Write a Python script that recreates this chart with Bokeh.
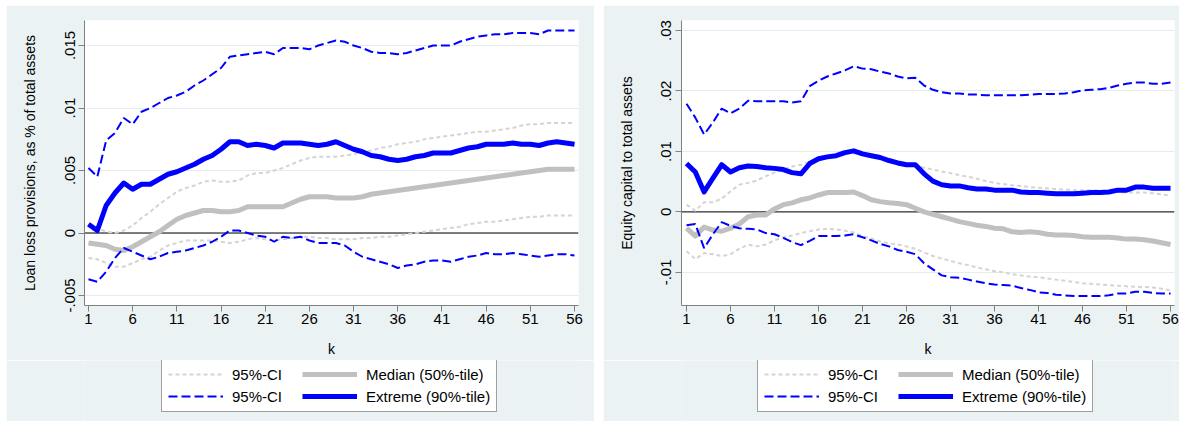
from bokeh.plotting import figure
from bokeh.models import Range1d, FixedTicker, Span, Legend, LegendItem
from bokeh.layouts import row, column
from bokeh.embed import file_html
from bokeh.resources import INLINE

# ---------------- data ----------------
k = list(range(1, 57))
x_ticks = [1, 6, 11, 16, 21, 26, 31, 36, 41, 46, 51, 56]
x_label = "k"

legend_labels = ["95%-CI", "Median (50%-tile)", "95%-CI", "Extreme (90%-tile)"]

# Left panel: loan loss provisions
left_ylabel = "Loan loss provisions, as % of total assets"
left_yticks = [-0.005, 0, 0.005, 0.01, 0.015]
left_yticklabels = ["-.005", "0", ".005", ".01", ".015"]

left_ci_gray_hi = [0.0007, 0.0004, 0.0001, 0.0000, 0.0002, 0.0006, 0.0012, 0.0017, 0.0023, 0.0028,
                   0.0033, 0.0036, 0.0038, 0.0041, 0.0042, 0.0041, 0.0041, 0.0042, 0.0046, 0.0048,
                   0.0048, 0.0050, 0.0052, 0.0055, 0.0058, 0.0060, 0.0061, 0.0061, 0.0061, 0.0062,
                   0.0063, 0.0065, 0.0066, 0.0068, 0.0069, 0.0071, 0.0072, 0.0073, 0.0075, 0.0076,
                   0.0077, 0.0078, 0.0079, 0.0080, 0.0081, 0.0081, 0.0082, 0.0083, 0.0084, 0.0086,
                   0.0087, 0.0087, 0.0088, 0.0088, 0.0088, 0.0088]
left_ci_gray_lo = [-0.0020, -0.0021, -0.0024, -0.0027, -0.0027, -0.0024, -0.0021, -0.0019, -0.0014, -0.0010,
                   -0.0008, -0.0006, -0.0006, -0.0006, -0.0006, -0.0007, -0.0008, -0.0007, -0.0005, -0.0004,
                   -0.0005, -0.0006, -0.0005, -0.0004, -0.0003, -0.0003, -0.0004, -0.0004, -0.0005, -0.0005,
                   -0.0005, -0.0004, -0.0004, -0.0003, -0.0003, -0.0002, -0.0001, 0.0000, 0.0001, 0.0002,
                   0.0003, 0.0004, 0.0005, 0.0007, 0.0008, 0.0009, 0.0009, 0.0010, 0.0011, 0.0012,
                   0.0013, 0.0013, 0.0014, 0.0014, 0.0014, 0.0014]
left_median = [-0.0008, -0.0009, -0.0010, -0.0013, -0.0014, -0.0011, -0.0007, -0.0003, 0.0001, 0.0006,
               0.0011, 0.0014, 0.0016, 0.0018, 0.0018, 0.0017, 0.0017, 0.0018, 0.0021, 0.0021,
               0.0021, 0.0021, 0.0021, 0.0024, 0.0027, 0.0029, 0.0029, 0.0029, 0.0028, 0.0028,
               0.0028, 0.0029, 0.0031, 0.0032, 0.0033, 0.0034, 0.0035, 0.0036, 0.0037, 0.0038,
               0.0039, 0.0040, 0.0041, 0.0042, 0.0043, 0.0044, 0.0045, 0.0046, 0.0047, 0.0048,
               0.0049, 0.0050, 0.0051, 0.0051, 0.0051, 0.0051]
left_ci_blue_hi = [0.0052, 0.0045, 0.0074, 0.0080, 0.0092, 0.0087, 0.0097, 0.0100, 0.0104, 0.0108,
                   0.0110, 0.0113, 0.0118, 0.0122, 0.0127, 0.0132, 0.0141, 0.0142, 0.0143, 0.0144,
                   0.0145, 0.0143, 0.0148, 0.0148, 0.0148, 0.0147, 0.0150, 0.0152, 0.0154, 0.0153,
                   0.0150, 0.0148, 0.0145, 0.0144, 0.0144, 0.0143, 0.0144, 0.0146, 0.0148, 0.0150,
                   0.0150, 0.0150, 0.0153, 0.0155, 0.0157, 0.0158, 0.0159, 0.0159, 0.0160, 0.0160,
                   0.0160, 0.0159, 0.0162, 0.0162, 0.0162, 0.0162]
left_ci_blue_lo = [-0.0037, -0.0039, -0.0031, -0.0020, -0.0012, -0.0015, -0.0018, -0.0021, -0.0019, -0.0016,
                   -0.0015, -0.0014, -0.0012, -0.0010, -0.0007, -0.0003, 0.0002, 0.0002, 0.0000, -0.0002,
                   -0.0003, -0.0007, -0.0003, -0.0004, -0.0003, -0.0006, -0.0008, -0.0008, -0.0008, -0.0010,
                   -0.0015, -0.0019, -0.0021, -0.0023, -0.0025, -0.0028, -0.0026, -0.0025, -0.0023, -0.0022,
                   -0.0022, -0.0023, -0.0021, -0.0019, -0.0018, -0.0016, -0.0017, -0.0017, -0.0016, -0.0017,
                   -0.0018, -0.0019, -0.0018, -0.0017, -0.0017, -0.0018]
left_extreme = [0.0007, 0.0002, 0.0022, 0.0032, 0.0040, 0.0035, 0.0039, 0.0039, 0.0043, 0.0047,
                0.0049, 0.0052, 0.0055, 0.0059, 0.0062, 0.0067, 0.0073, 0.0073, 0.0070, 0.0071,
                0.0070, 0.0068, 0.0072, 0.0072, 0.0072, 0.0071, 0.0070, 0.0071, 0.0073, 0.0070,
                0.0067, 0.0065, 0.0062, 0.0061, 0.0059, 0.0058, 0.0059, 0.0061, 0.0062, 0.0064,
                0.0064, 0.0064, 0.0066, 0.0068, 0.0069, 0.0071, 0.0071, 0.0071, 0.0072, 0.0071,
                0.0071, 0.0070, 0.0072, 0.0073, 0.0072, 0.0071]

# Right panel: equity capital
right_ylabel = "Equity capital to total assets"
right_yticks = [-0.01, 0, 0.01, 0.02, 0.03]
right_yticklabels = ["-.01", "0", ".01", ".02", ".03"]

right_ci_gray_hi = [0.0012, 0.0002, 0.0016, 0.0016, 0.0022, 0.0034, 0.0045, 0.0048, 0.0052, 0.0059,
                    0.0065, 0.0071, 0.0075, 0.0078, 0.0083, 0.0090, 0.0092, 0.0094, 0.0096, 0.0097,
                    0.0095, 0.0092, 0.0090, 0.0086, 0.0083, 0.0080, 0.0077, 0.0073, 0.0070, 0.0067,
                    0.0064, 0.0061, 0.0058, 0.0055, 0.0051, 0.0048, 0.0046, 0.0044, 0.0043, 0.0041,
                    0.0040, 0.0039, 0.0038, 0.0037, 0.0036, 0.0036, 0.0036, 0.0035, 0.0034, 0.0033,
                    0.0032, 0.0032, 0.0032, 0.0031, 0.0029, 0.0027]
right_ci_gray_lo = [-0.0065, -0.0078, -0.0068, -0.0070, -0.0073, -0.0070, -0.0061, -0.0054, -0.0057, -0.0054,
                    -0.0047, -0.0042, -0.0039, -0.0035, -0.0032, -0.0029, -0.0028, -0.0029, -0.0031, -0.0034,
                    -0.0040, -0.0044, -0.0049, -0.0052, -0.0054, -0.0057, -0.0061, -0.0067, -0.0073, -0.0077,
                    -0.0081, -0.0085, -0.0088, -0.0092, -0.0095, -0.0098, -0.0100, -0.0103, -0.0105, -0.0107,
                    -0.0108, -0.0110, -0.0112, -0.0114, -0.0116, -0.0118, -0.0119, -0.0120, -0.0121, -0.0122,
                    -0.0123, -0.0124, -0.0124, -0.0125, -0.0127, -0.0130]
right_median = [-0.0027, -0.0040, -0.0025, -0.0030, -0.0032, -0.0027, -0.0020, -0.0008, -0.0005, -0.0005,
                0.0005, 0.0012, 0.0015, 0.0020, 0.0023, 0.0028, 0.0032, 0.0032, 0.0032, 0.0033,
                0.0027, 0.0020, 0.0017, 0.0015, 0.0014, 0.0012, 0.0006, 0.0000, -0.0004, -0.0008,
                -0.0012, -0.0016, -0.0019, -0.0022, -0.0024, -0.0027, -0.0028, -0.0033, -0.0034, -0.0033,
                -0.0034, -0.0037, -0.0038, -0.0038, -0.0039, -0.0041, -0.0042, -0.0042, -0.0042, -0.0043,
                -0.0045, -0.0045, -0.0046, -0.0048, -0.0051, -0.0054]
right_ci_blue_hi = [0.0179, 0.0156, 0.0128, 0.0148, 0.0171, 0.0163, 0.0171, 0.0184, 0.0183, 0.0183,
                    0.0183, 0.0183, 0.0181, 0.0183, 0.0208, 0.0217, 0.0224, 0.0229, 0.0234, 0.0241,
                    0.0237, 0.0236, 0.0232, 0.0229, 0.0224, 0.0221, 0.0222, 0.0209, 0.0202, 0.0198,
                    0.0196, 0.0196, 0.0194, 0.0194, 0.0193, 0.0193, 0.0193, 0.0193, 0.0193, 0.0194,
                    0.0195, 0.0195, 0.0195, 0.0196, 0.0198, 0.0201, 0.0202, 0.0203, 0.0205, 0.0209,
                    0.0212, 0.0214, 0.0214, 0.0212, 0.0212, 0.0214]
right_ci_blue_lo = [-0.0022, -0.0020, -0.0060, -0.0037, -0.0017, -0.0023, -0.0027, -0.0028, -0.0029, -0.0035,
                    -0.0037, -0.0043, -0.0050, -0.0055, -0.0048, -0.0040, -0.0040, -0.0040, -0.0039, -0.0037,
                    -0.0042, -0.0047, -0.0053, -0.0057, -0.0063, -0.0066, -0.0070, -0.0085, -0.0095, -0.0105,
                    -0.0108, -0.0109, -0.0112, -0.0115, -0.0118, -0.0120, -0.0121, -0.0122, -0.0126, -0.0129,
                    -0.0133, -0.0134, -0.0137, -0.0138, -0.0139, -0.0139, -0.0139, -0.0139, -0.0138, -0.0135,
                    -0.0135, -0.0132, -0.0132, -0.0134, -0.0135, -0.0135]
right_extreme = [0.0080, 0.0066, 0.0033, 0.0056, 0.0078, 0.0066, 0.0073, 0.0076, 0.0075, 0.0073,
                 0.0072, 0.0070, 0.0065, 0.0063, 0.0080, 0.0088, 0.0091, 0.0093, 0.0098, 0.0101,
                 0.0096, 0.0093, 0.0090, 0.0085, 0.0081, 0.0078, 0.0078, 0.0063, 0.0051, 0.0045,
                 0.0043, 0.0043, 0.0040, 0.0038, 0.0038, 0.0036, 0.0036, 0.0036, 0.0033, 0.0032,
                 0.0032, 0.0031, 0.0030, 0.0030, 0.0030, 0.0031, 0.0032, 0.0032, 0.0033, 0.0036,
                 0.0036, 0.0041, 0.0041, 0.0039, 0.0039, 0.0039]

# ---------------- style ----------------
FONT = "Liberation Sans"
BG = "#eaf2f3"
GRID = "#e3ecee"
AXIS = "#808080"
BLUE = "#0000ff"
MED_GRAY = "#c0c0c0"
CI_GRAY = "#d4d4d4"

CI_STYLE = dict(line_color=CI_GRAY, line_width=2, line_dash="4 3")
MED_STYLE = dict(line_color=MED_GRAY, line_width=5, line_join="round")
BCI_STYLE = dict(line_color=BLUE, line_width=2, line_dash="9 4")
EXT_STYLE = dict(line_color=BLUE, line_width=5, line_join="round")


def panel(width, left_margin, border_left, border_right, x_start, y_start, y_end,
          yticks, yticklabels, ylabel, ci_hi, ci_lo, med, b_hi, b_lo, ext, leg_x):
    p = figure(width=width, height=355, output_backend="svg", toolbar_location=None,
               x_range=Range1d(x_start, 56.45), y_range=Range1d(y_start, y_end),
               min_border_left=border_left, min_border_right=border_right,
               min_border_top=15, min_border_bottom=55)
    p.margin = (5, 0, 0, left_margin)
    p.border_fill_color = BG
    p.background_fill_color = "white"
    p.outline_line_color = None

    # axes
    p.xaxis.ticker = FixedTicker(ticks=x_ticks)
    p.yaxis.ticker = FixedTicker(ticks=yticks)
    p.yaxis.major_label_overrides = {t: l for t, l in zip(yticks, yticklabels)}
    p.yaxis.major_label_orientation = "vertical"
    for ax in (p.xaxis, p.yaxis):
        ax.axis_line_color = AXIS
        ax.major_tick_line_color = AXIS
        ax.major_tick_out = 6
        ax.major_tick_in = 0
        ax.minor_tick_line_color = None
        ax.major_label_text_font = FONT
        ax.major_label_text_font_size = "15px"
        ax.major_label_text_color = "black"
        ax.axis_label_text_font = FONT
        ax.axis_label_text_font_size = "14px"
        ax.axis_label_text_font_style = "normal"
        ax.axis_label_text_color = "black"
    p.xaxis.axis_label = x_label
    p.xaxis.major_label_standoff = 2
    p.xaxis.axis_label_standoff = 14
    p.yaxis.axis_label = ylabel
    p.yaxis.major_label_standoff = 4
    p.yaxis.axis_label_standoff = 24

    p.xgrid.grid_line_color = None
    p.ygrid.ticker = FixedTicker(ticks=yticks)
    p.ygrid.grid_line_color = GRID
    p.ygrid.grid_line_width = 1

    p.add_layout(Span(location=0, dimension="width", line_color="black",
                      line_width=1, level="underlay"))

    p.line(k, ci_hi, **CI_STYLE)
    p.line(k, ci_lo, **CI_STYLE)
    p.line(k, med, **MED_STYLE)
    p.line(k, b_hi, **BCI_STYLE)
    p.line(k, b_lo, **BCI_STYLE)
    p.line(k, ext, **EXT_STYLE)

    # legend strip below the plot (same background); its lines lie outside its ranges
    q = figure(width=width, height=61, output_backend="svg", toolbar_location=None,
               x_range=Range1d(0, 1), y_range=Range1d(0, 1),
               x_axis_location=None, y_axis_location=None,
               min_border_left=0, min_border_right=0, min_border_top=0, min_border_bottom=0)
    q.margin = (0, 0, 0, left_margin)
    q.border_fill_color = BG
    q.background_fill_color = BG
    q.outline_line_color = None
    q.xgrid.grid_line_color = None
    q.ygrid.grid_line_color = None
    off_x = [-5, -4]
    off_y = [-5, -5]
    r1 = q.line(off_x, off_y, **CI_STYLE)
    r2 = q.line(off_x, off_y, **MED_STYLE)
    r3 = q.line(off_x, off_y, **BCI_STYLE)
    r4 = q.line(off_x, off_y, **EXT_STYLE)
    items = [LegendItem(label=legend_labels[0], renderers=[r1]),
             LegendItem(label=legend_labels[1], renderers=[r2]),
             LegendItem(label=legend_labels[2], renderers=[r3]),
             LegendItem(label=legend_labels[3], renderers=[r4])]
    leg = Legend(items=items, orientation="horizontal", ncols=2, location=(leg_x, 9),
                 glyph_width=55, glyph_height=18, label_height=18, label_width=66,
                 label_standoff=9, spacing=4, padding=6, margin=0,
                 label_text_font=FONT, label_text_font_size="15px",
                 label_text_color="black",
                 border_line_color="#404040", border_line_width=1,
                 background_fill_color="white", background_fill_alpha=1.0)
    q.add_layout(leg)
    return column(p, q, spacing=0)


p_left = panel(588, 6, 78, 16, 0.55, -0.0058, 0.0170,
               left_yticks, left_yticklabels, left_ylabel,
               left_ci_gray_hi, left_ci_gray_lo, left_median,
               left_ci_blue_hi, left_ci_blue_lo, left_extreme, 77)
p_right = panel(576, 9, 78, 5, 0.43, -0.01548, 0.03166,
                right_yticks, right_yticklabels, right_ylabel,
                right_ci_gray_hi, right_ci_gray_lo, right_median,
                right_ci_blue_hi, right_ci_blue_lo, right_extreme, 76)

layout = row(p_left, p_right, spacing=0)
open("out.html", "w").write(file_html(layout, INLINE))
